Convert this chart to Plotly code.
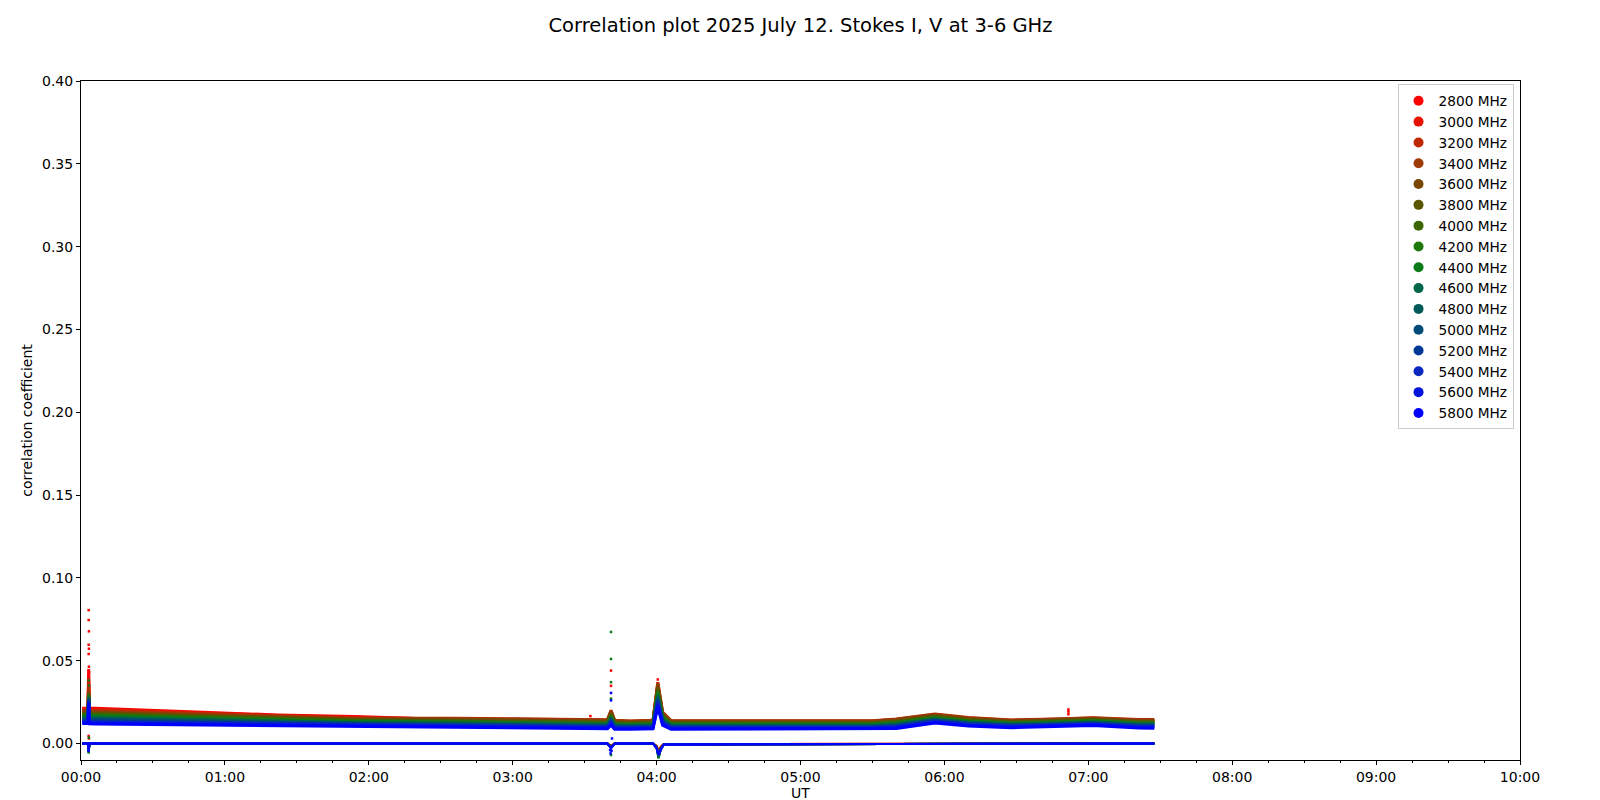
import plotly.graph_objects as go

# ---------------- data ----------------
FREQS_MHZ = [2800, 3000, 3200, 3400, 3600, 3800, 4000, 4200,
             4400, 4600, 4800, 5000, 5200, 5400, 5600, 5800]
COLORS = ["#ff0000", "#e41400", "#c02800", "#9e3a06", "#7a4600", "#5a5600",
          "#3c6600", "#1e780a", "#0a7a18", "#00664a", "#005a5a", "#004a78",
          "#003898", "#0a28c0", "#0014e0", "#0000ff"]

HOUR_TICKS_MIN = [0, 60, 120, 180, 240, 300, 360, 420, 480, 540, 600]
HOUR_LABELS = ["00:00", "01:00", "02:00", "03:00", "04:00", "05:00",
               "06:00", "07:00", "08:00", "09:00", "10:00"]
Y_TICKS = [0.00, 0.05, 0.10, 0.15, 0.20, 0.25, 0.30, 0.35, 0.40]

# time (minutes after 00:00 UT) for Stokes I samples
T_I = [0.5, 2.9, 3.2, 3.5, 6, 35, 60, 82, 114, 156, 212, 219.5, 221, 222.5,
       229, 238.5, 240.5, 242.5, 246, 330, 340, 356, 370, 388, 407, 422, 441, 447.5]

I_2800 = [.0212, .0212, .0450, .0212, .0212, .0198, .0187, .0172, .0162, .0143, .0134, .0134, .0185, .0131, .0127, .0131, .0345, .0177, .0129, .0128, .0138, .0168, .0147, .0134, .0140, .0147, .0135, .0135]
I_3000 = [.0206, .0206, .0400, .0206, .0206, .0192, .0182, .0168, .0158, .0146, .0138, .0138, .0191, .0135, .0131, .0135, .0355, .0182, .0133, .0132, .0142, .0172, .0151, .0137, .0144, .0150, .0139, .0139]
I_3200 = [.0200, .0200, .0360, .0200, .0199, .0187, .0177, .0164, .0154, .0152, .0143, .0143, .0200, .0140, .0136, .0140, .0370, .0190, .0138, .0137, .0148, .0177, .0156, .0142, .0148, .0155, .0144, .0144]
I_3400 = [.0194, .0194, .0330, .0193, .0193, .0181, .0172, .0160, .0150, .0150, .0141, .0141, .0197, .0138, .0134, .0138, .0365, .0187, .0136, .0135, .0146, .0175, .0154, .0140, .0147, .0153, .0142, .0142]
I_3600 = [.0187, .0187, .0310, .0187, .0187, .0176, .0167, .0156, .0147, .0145, .0136, .0136, .0188, .0133, .0129, .0133, .0350, .0179, .0131, .0130, .0140, .0170, .0149, .0136, .0142, .0149, .0137, .0137]
I_3800 = [.0181, .0181, .0300, .0181, .0181, .0170, .0162, .0151, .0143, .0139, .0130, .0130, .0179, .0127, .0124, .0128, .0335, .0171, .0126, .0125, .0134, .0164, .0144, .0131, .0138, .0144, .0132, .0132]
I_4000 = [.0175, .0175, .0295, .0175, .0174, .0164, .0157, .0147, .0139, .0134, .0125, .0125, .0170, .0122, .0119, .0123, .0320, .0163, .0120, .0120, .0129, .0159, .0139, .0126, .0133, .0140, .0127, .0127]
I_4200 = [.0169, .0169, .0290, .0169, .0168, .0159, .0152, .0143, .0135, .0130, .0121, .0121, .0164, .0118, .0116, .0119, .0310, .0158, .0117, .0117, .0125, .0155, .0136, .0123, .0130, .0137, .0124, .0124]
I_4400 = [.0163, .0163, .0285, .0162, .0162, .0153, .0147, .0139, .0131, .0126, .0118, .0118, .0158, .0115, .0112, .0116, .0300, .0153, .0113, .0113, .0121, .0152, .0132, .0120, .0127, .0134, .0120, .0120]
I_4600 = [.0157, .0157, .0280, .0156, .0156, .0148, .0142, .0135, .0127, .0123, .0114, .0114, .0152, .0111, .0109, .0112, .0290, .0147, .0110, .0110, .0117, .0148, .0129, .0117, .0124, .0130, .0117, .0117]
I_4800 = [.0151, .0151, .0275, .0150, .0149, .0142, .0137, .0131, .0123, .0119, .0111, .0111, .0146, .0108, .0105, .0109, .0280, .0142, .0106, .0106, .0113, .0145, .0125, .0114, .0121, .0127, .0113, .0113]
I_5000 = [.0145, .0145, .0270, .0144, .0143, .0136, .0132, .0127, .0120, .0115, .0107, .0107, .0140, .0104, .0102, .0105, .0270, .0137, .0103, .0103, .0109, .0141, .0122, .0111, .0118, .0124, .0110, .0110]
I_5200 = [.0138, .0138, .0265, .0138, .0137, .0131, .0127, .0122, .0116, .0112, .0103, .0103, .0134, .0100, .0099, .0102, .0260, .0131, .0099, .0100, .0105, .0137, .0119, .0108, .0115, .0121, .0107, .0107]
I_5400 = [.0132, .0132, .0255, .0131, .0130, .0125, .0122, .0118, .0112, .0108, .0100, .0100, .0128, .0097, .0095, .0098, .0250, .0126, .0096, .0096, .0102, .0134, .0115, .0104, .0112, .0118, .0103, .0103]
I_5600 = [.0126, .0126, .0250, .0125, .0124, .0120, .0117, .0114, .0108, .0102, .0094, .0094, .0119, .0091, .0090, .0093, .0235, .0118, .0090, .0091, .0096, .0128, .0110, .0100, .0108, .0114, .0098, .0098]
I_5800 = [.0120, .0120, .0240, .0119, .0118, .0114, .0112, .0110, .0104, .0097, .0089, .0089, .0110, .0086, .0085, .0088, .0220, .0110, .0085, .0086, .0090, .0123, .0105, .0095, .0103, .0109, .0093, .0092]

# time (minutes) for Stokes V samples
T_V = [0.5, 2.9, 3.2, 3.5, 6, 219.5, 221, 222.5, 238.5, 240, 240.8, 241.8, 243, 447.5]

V_2800 = [-.0001, -.0001, -.0020, -.0001, -.0001, -.0001, -.0015, -.0001, -.0001, -.0015, -.0040, -.0020, -.0004, -.0001]
V_3000 = [-.0001, -.0001, -.0025, -.0001, -.0001, -.0001, -.0015, -.0001, -.0001, -.0015, -.0045, -.0020, -.0004, -.0001]
V_3200 = [-.0001, -.0001, -.0030, -.0001, -.0001, -.0001, -.0018, -.0001, -.0001, -.0018, -.0050, -.0022, -.0004, -.0001]
V_3400 = [-.0001, -.0001, -.0035, -.0001, -.0001, -.0001, -.0018, -.0001, -.0001, -.0018, -.0055, -.0024, -.0004, -.0001]
V_3600 = [-.0001, -.0001, -.0040, -.0001, -.0001, -.0001, -.0020, -.0001, -.0001, -.0020, -.0060, -.0026, -.0005, -.0001]
V_3800 = [-.0001, -.0001, -.0045, -.0001, -.0001, -.0001, -.0020, -.0001, -.0001, -.0020, -.0070, -.0028, -.0005, -.0001]
V_4000 = [-.0001, -.0001, -.0055, -.0001, -.0001, -.0001, -.0022, -.0001, -.0001, -.0022, -.0085, -.0030, -.0005, -.0001]
V_4200 = [-.0001, -.0001, -.0060, -.0001, -.0001, -.0001, -.0022, -.0001, -.0001, -.0022, -.0090, -.0032, -.0006, -.0001]
V_4400 = [-.0001, -.0001, -.0060, -.0001, -.0001, -.0001, -.0025, -.0001, -.0001, -.0025, -.0090, -.0032, -.0006, -.0001]
V_4600 = [-.0001, -.0001, -.0055, -.0001, -.0001, -.0001, -.0025, -.0001, -.0001, -.0025, -.0085, -.0032, -.0006, -.0001]
V_4800 = [-.0001, -.0001, -.0050, -.0001, -.0001, -.0001, -.0025, -.0001, -.0001, -.0025, -.0080, -.0032, -.0006, -.0001]
V_5000 = [-.0001, -.0001, -.0050, -.0001, -.0001, -.0001, -.0025, -.0001, -.0001, -.0025, -.0075, -.0033, -.0006, -.0001]
V_5200 = [-.0001, -.0001, -.0050, -.0001, -.0001, -.0001, -.0025, -.0001, -.0001, -.0025, -.0072, -.0033, -.0006, -.0001]
V_5400 = [-.0001, -.0001, -.0050, -.0001, -.0001, -.0001, -.0028, -.0001, -.0001, -.0028, -.0070, -.0034, -.0006, -.0001]
V_5600 = [-.0001, -.0001, -.0050, -.0001, -.0001, -.0001, -.0028, -.0001, -.0001, -.0028, -.0068, -.0034, -.0006, -.0001]
V_5800 = [-.0001, -.0001, -.0050, -.0001, -.0001, -.0001, -.0030, -.0001, -.0001, -.0030, -.0065, -.0035, -.0006, -.0001]

# isolated outlier samples (minutes, value)
OUT_2800_T = [3.2, 3.2, 3.3, 3.2, 3.3, 3.2, 3.3, 3.4, 3.2, 3.2, 3.3, 221, 221, 240.5, 411.7, 411.7, 411.7, 212.4]
OUT_2800_V = [0.0805, 0.0745, 0.0677, 0.0596, 0.0572, 0.0540, 0.0463, 0.0430, 0.0413, 0.0045, 0.0030, 0.0440, 0.0348, 0.0386, 0.0205, 0.0192, 0.0176, 0.0165]
OUT_4400_T = [3.2, 3.3, 221, 221, 221, 221, 221, 3.3]
OUT_4400_V = [0.0380, 0.0350, 0.0673, 0.0510, 0.0370, 0.0270, -0.0070, 0.0035]
OUT_5800_T = [221, 221, 220.6, 221.4, 220.8, 221.2]
OUT_5800_V = [0.0305, 0.0260, -0.0040, 0.0030, -0.0060, -0.0045]

I_SERIES = [I_2800, I_3000, I_3200, I_3400, I_3600, I_3800, I_4000, I_4200,
            I_4400, I_4600, I_4800, I_5000, I_5200, I_5400, I_5600, I_5800]
V_SERIES = [V_2800, V_3000, V_3200, V_3400, V_3600, V_3800, V_4000, V_4200,
            V_4400, V_4600, V_4800, V_5000, V_5200, V_5400, V_5600, V_5800]
OUTLIERS = {2800: (OUT_2800_T, OUT_2800_V), 4400: (OUT_4400_T, OUT_4400_V),
            5800: (OUT_5800_T, OUT_5800_V)}

# ---------------- figure ----------------
fig = go.Figure()
FONT = "DejaVu Sans, Arial, sans-serif"

# legend entries (circle markers, as in the reference)
for f, c in zip(FREQS_MHZ, COLORS):
    fig.add_trace(go.Scatter(x=[None], y=[None], mode="markers", name=f"{f} MHz",
                             marker=dict(color=c, size=10, symbol="circle"),
                             showlegend=True, hoverinfo="skip"))

for f, c, iv, vv in zip(FREQS_MHZ, COLORS, I_SERIES, V_SERIES):
    fig.add_trace(go.Scatter(x=T_I, y=iv, mode="lines", line=dict(color=c, width=3),
                             showlegend=False, name=f"{f} MHz I"))
    fig.add_trace(go.Scatter(x=T_V, y=vv, mode="lines", line=dict(color=c, width=2),
                             showlegend=False, name=f"{f} MHz V"))
    if f in OUTLIERS:
        ot, ov = OUTLIERS[f]
        fig.add_trace(go.Scatter(x=ot, y=ov, mode="markers", showlegend=False,
                                 marker=dict(color=c, size=2.5, symbol="square",
                                             line=dict(width=0))))

axis_common = dict(showline=True, mirror=True, linecolor="black", linewidth=1,
                   ticks="outside", ticklen=4, tickwidth=1, tickcolor="black",
                   showgrid=False, zeroline=False, automargin=False,
                   tickfont=dict(family=FONT, size=14, color="black"))

# the page body adds an 8 px offset; margins compensate so the plot area
# sits at x 80..1520, y 80..760 of the 1600x800 window
fig.update_layout(
    template="none",
    width=1600, height=800,
    margin=dict(l=73, r=88, t=73, b=48),
    paper_bgcolor="white", plot_bgcolor="white",
    font=dict(family=FONT, size=14, color="black"),
    title=dict(text="Correlation plot 2025 July 12. Stokes I, V at 3-6 GHz",
               x=0.5, xref="paper", xanchor="center", y=0.987, yanchor="top",
               font=dict(family=FONT, size=19.5, color="black")),
    xaxis=dict(range=[0, 600], tickmode="array", tickvals=HOUR_TICKS_MIN,
               ticktext=HOUR_LABELS,
               minor=dict(dtick=15, ticks="outside", ticklen=2, tickcolor="black"),
               title=dict(text="UT", standoff=4, font=dict(family=FONT, size=14)),
               **axis_common),
    yaxis=dict(range=[-0.01, 0.40], tickmode="array", tickvals=Y_TICKS,
               tickformat=".2f",
               title=dict(text="correlation coefficient", standoff=6,
                          font=dict(family=FONT, size=14)),
               **axis_common),
    legend=dict(x=0.9955, y=0.995, xanchor="right", yanchor="top",
                bgcolor="white", bordercolor="#cccccc", borderwidth=1,
                font=dict(family=FONT, size=13.7, color="black"),
                itemsizing="trace"),
    showlegend=True,
)

fig.write_html("out.html")
